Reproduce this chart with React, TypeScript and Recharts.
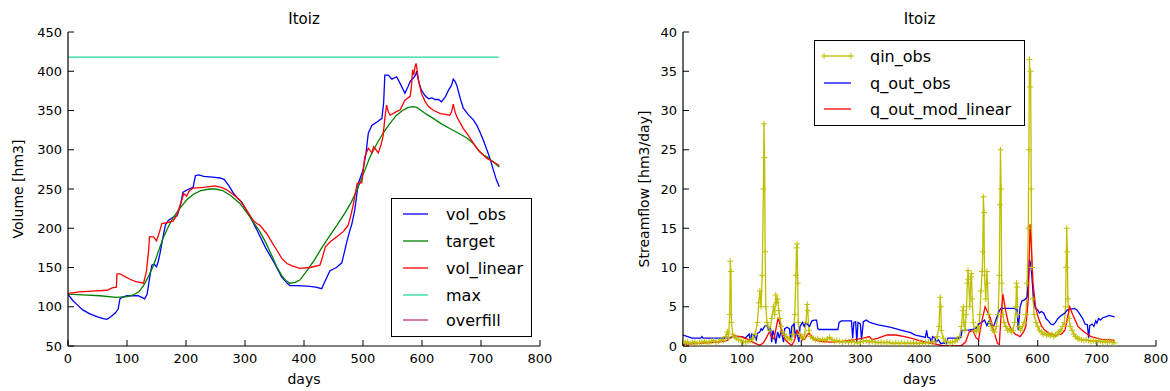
import React from 'react';
import { LineChart, Line, XAxis, YAxis } from 'recharts';

const FONT = '"DejaVu Sans", sans-serif';

const dayTicks = [0, 100, 200, 300, 400, 500, 600, 700, 800];
const volTicks = [50, 100, 150, 200, 250, 300, 350, 400, 450];
const flowTicks = [0, 5, 10, 15, 20, 25, 30, 35, 40];

const titleText = 'Itoiz';

// ---- Left chart: volumes [hm3] by day ----
const volObs: [number, number][] = [
  [0, 116], [8, 108], [15, 103], [25, 96], [37, 91], [50, 87], [60, 85], [66, 84], [72, 87], [80, 92],
  [85, 97], [88, 110], [92, 112], [100, 114], [110, 114], [119, 114], [125, 112], [130, 110], [134, 116],
  [138, 135], [142, 153], [146, 154], [150, 151], [153, 158], [156, 168], [160, 185], [165, 204], [170, 210],
  [178, 214], [185, 216], [190, 228], [195, 246], [205, 250], [212, 252], [216, 267], [222, 268], [230, 266],
  [245, 265], [258, 264], [265, 262], [272, 255], [280, 245], [288, 238], [294, 234], [305, 220], [320, 198],
  [335, 175], [348, 158], [356, 147], [362, 138], [370, 131], [376, 127], [390, 127], [410, 126], [420, 125],
  [430, 123], [436, 133], [444, 146], [455, 150], [464, 156], [468, 168], [472, 181], [478, 198], [481, 205],
  [486, 223], [492, 257], [500, 274], [505, 295], [509, 321], [515, 331], [525, 336], [532, 340], [535, 360],
  [537, 395], [543, 395], [549, 390], [557, 393], [564, 383], [571, 372], [576, 380], [580, 387], [585, 391],
  [589, 395], [591, 400], [595, 385], [599, 376], [605, 369], [611, 365], [617, 366], [622, 364], [628, 364],
  [633, 361], [640, 368], [645, 376], [650, 382], [653, 390], [656, 387], [659, 382], [665, 365], [670, 353],
  [678, 345], [687, 338], [693, 331], [698, 323], [704, 312], [710, 300], [716, 287], [721, 274], [726, 262],
  [731, 253],
];

const target: [number, number][] = [
  [0, 116], [25, 115], [54, 114], [82, 112], [100, 113], [111, 115], [120, 119], [128, 127], [136, 138],
  [145, 153], [153, 170], [162, 189], [170, 202], [178, 213], [190, 226], [201, 236], [212, 243], [225, 248],
  [240, 250], [250, 250], [262, 248], [275, 242], [291, 232], [305, 218], [315, 207], [325, 196], [335, 182],
  [345, 166], [354, 151], [362, 140], [370, 133], [376, 130], [385, 131], [393, 134], [405, 146], [418, 160],
  [430, 175], [444, 191], [456, 204], [469, 219], [480, 233], [490, 249], [500, 268], [512, 291], [523, 307],
  [534, 321], [545, 333], [557, 344], [567, 350], [577, 354], [585, 355], [591, 354], [597, 351], [608, 345],
  [619, 340], [633, 333], [647, 327], [662, 321], [676, 315], [687, 308], [693, 302], [698, 297], [705, 293],
  [710, 291], [720, 285], [731, 278],
];

const volLinear: [number, number][] = [
  [0, 117], [20, 119], [40, 120], [66, 121], [75, 124], [82, 125], [83, 142], [88, 142], [95, 139], [105, 135],
  [115, 132], [128, 130], [133, 145], [137, 175], [138, 189], [145, 189], [150, 184], [155, 195], [159, 206],
  [167, 207], [178, 209], [184, 216], [193, 236], [196, 244], [201, 241], [206, 248], [212, 251], [230, 252],
  [249, 254], [260, 252], [269, 249], [280, 243], [291, 236], [300, 226], [314, 210], [320, 206], [325, 204],
  [337, 193], [345, 183], [354, 172], [362, 162], [371, 155], [380, 152], [393, 149], [410, 150], [427, 153],
  [432, 165], [436, 176], [445, 183], [455, 189], [467, 196], [471, 200], [475, 204], [480, 218], [484, 232],
  [490, 257], [498, 258], [503, 291], [509, 302], [515, 296], [518, 304], [522, 300], [526, 296], [530, 305],
  [534, 317], [537, 340], [540, 357], [543, 348], [546, 344], [555, 348], [563, 351], [571, 363], [580, 368],
  [582, 380], [584, 402], [586, 395], [588, 405], [590, 410], [592, 400], [594, 389], [599, 372], [605, 362],
  [611, 355], [620, 350], [631, 346], [640, 345], [647, 344], [650, 348], [653, 358], [656, 348], [659, 342],
  [665, 334], [670, 327], [677, 320], [684, 312], [690, 305], [695, 300], [703, 294], [710, 289], [720, 285],
  [731, 280],
];

const maxVol: [number, number][] = [[0, 418], [730, 418]];
const overfill: [number, number][] = [];

// ---- Right chart: streamflow [hm3/day] by day ----
const qinObs: [number, number][] = [
  [0, 0.6], [4, 0.4], [8, 0.5], [12, 0.3], [16, 0.4], [20, 0.5], [24, 0.3], [28, 0.4], [32, 0.5], [36, 0.6],
  [40, 0.4], [44, 0.5], [48, 0.6], [52, 0.7], [56, 0.5], [60, 0.6], [64, 0.8], [68, 0.7], [72, 1.2], [75, 1.8],
  [77, 1.0], [79, 4.0], [80, 10.8], [81, 9.5], [82, 3.0], [84, 1.5], [87, 1.2], [90, 1.0], [94, 0.8], [98, 0.7],
  [102, 0.6], [106, 0.5], [110, 0.6], [114, 0.7], [118, 0.9], [122, 1.5], [126, 3.0], [128, 5.5], [130, 7.0],
  [132, 5.0], [134, 9.0], [136, 20], [137, 28.3], [138, 24], [139, 12], [140, 5], [142, 3], [144, 2.5],
  [147, 2.0], [150, 3.5], [153, 5.0], [155, 4.0], [157, 6.5], [158, 5.5], [160, 6.0], [162, 4.5], [164, 3.5],
  [166, 2.5], [168, 1.8], [171, 1.5], [174, 1.2], [177, 1.0], [180, 1.0], [183, 0.8], [186, 1.5], [189, 4.0],
  [191, 9.0], [192, 12.5], [193, 13.0], [194, 8.0], [195, 3.0], [197, 1.5], [200, 1.2], [203, 1.0], [206, 1.5],
  [208, 3.0], [210, 5.3], [211, 4.5], [213, 2.0], [216, 1.2], [220, 1.0], [224, 0.8], [228, 0.9], [232, 0.7],
  [236, 0.8], [240, 0.7], [244, 0.9], [248, 1.1], [252, 0.8], [256, 0.6], [260, 0.7], [265, 0.6], [270, 0.5],
  [275, 0.6], [280, 0.5], [285, 0.6], [290, 0.5], [295, 0.4], [300, 0.5], [305, 0.6], [310, 0.7], [315, 0.5],
  [320, 0.6], [325, 0.5], [330, 0.4], [335, 0.5], [340, 0.4], [345, 0.5], [350, 0.4], [355, 0.3], [360, 0.4],
  [365, 0.3], [370, 0.4], [375, 0.3], [380, 0.4], [385, 0.3], [390, 0.4], [395, 0.3], [400, 0.4], [405, 0.3],
  [410, 0.4], [415, 0.5], [420, 0.4], [425, 0.6], [430, 1.2], [433, 2.5], [435, 6.2], [436, 5.0], [437, 2.0],
  [440, 1.0], [444, 0.6], [448, 0.5], [452, 0.4], [456, 0.5], [460, 0.6], [464, 0.8], [468, 1.2], [471, 2.5],
  [473, 4.5], [474, 5.0], [475, 3.0], [477, 2.0], [479, 4.0], [481, 8.0], [482, 9.6], [483, 8.5], [485, 5.0],
  [487, 8.8], [488, 9.2], [489, 6.0], [491, 3.0], [493, 2.0], [496, 1.8], [498, 2.5], [500, 2.0], [502, 4.0],
  [504, 7.0], [506, 9.5], [507, 12.0], [508, 19.0], [509, 17.0], [510, 9.0], [512, 6.0], [514, 9.5], [515, 8.0],
  [517, 4.0], [519, 3.0], [521, 2.5], [524, 2.0], [527, 1.8], [530, 2.5], [533, 4.0], [535, 9.0], [536, 18.0],
  [537, 25.0], [538, 20.0], [539, 8.0], [541, 4.0], [543, 3.0], [546, 2.5], [549, 2.0], [552, 2.2], [555, 1.8],
  [558, 2.0], [561, 3.0], [563, 5.0], [564, 8.0], [565, 7.5], [566, 4.0], [568, 2.5], [571, 2.0], [574, 2.5],
  [577, 3.0], [580, 4.0], [582, 8.0], [584, 15], [585, 25], [586, 36.5], [587, 33], [588, 35], [589, 20],
  [590, 10], [592, 6], [594, 4], [597, 3], [600, 2.5], [603, 2.0], [606, 1.8], [609, 1.5], [612, 1.6],
  [615, 1.4], [618, 1.5], [621, 1.3], [624, 1.5], [627, 1.2], [630, 1.4], [633, 1.5], [636, 1.8], [639, 2.0],
  [642, 2.5], [645, 3.0], [647, 5.0], [648, 10.0], [649, 15.0], [650, 12.0], [651, 6.0], [653, 3.5], [655, 2.5],
  [658, 2.0], [661, 1.5], [664, 1.2], [667, 1.0], [670, 0.9], [674, 0.8], [678, 0.7], [682, 0.8], [686, 0.7],
  [690, 0.6], [694, 0.7], [698, 0.6], [702, 0.7], [706, 0.6], [710, 0.5], [714, 0.6], [718, 0.5], [722, 0.6],
  [726, 0.5], [730, 0.4],
];

const qOutObs: [number, number][] = [
  [0, 1.4], [8, 1.2], [15, 1.0], [30, 1.0], [32, 1.2], [34, 1.0], [60, 1.0], [80, 1.0], [84, 1.2], [100, 1.2],
  [105, 1.0], [108, 1.2], [112, 1.5], [114, 0.5], [116, 1.5], [120, 1.4], [124, 0.8], [126, 1.6], [130, 1.8],
  [132, 2.2], [134, 2.0], [138, 2.5], [142, 2.6], [145, 2.0], [148, 2.2], [150, 0.5], [152, 2.0], [155, 1.2],
  [157, 0.3], [160, 1.8], [163, 1.0], [166, 2.0], [170, 0.5], [172, 2.2], [176, 2.4], [180, 2.2], [182, 0.8],
  [184, 2.5], [188, 2.8], [190, 1.0], [192, 2.0], [196, 0.5], [198, 2.5], [202, 3.0], [205, 2.5], [207, 2.9],
  [210, 2.8], [214, 2.5], [218, 3.2], [222, 3.3], [226, 3.3], [228, 2.2], [230, 2.1], [262, 2.1], [264, 3.0],
  [268, 3.2], [285, 3.2], [287, 1.0], [289, 3.0], [292, 3.1], [294, 0.5], [296, 3.0], [300, 2.8], [302, 0.8],
  [305, 3.1], [310, 3.3], [316, 3.0], [320, 2.9], [330, 2.7], [350, 2.4], [370, 2.0], [385, 1.7], [393, 1.4],
  [405, 1.2], [410, 1.1], [412, 2.0], [414, 1.1], [418, 1.0], [420, 0.3], [422, 1.2], [426, 1.0], [428, 0.5],
  [432, 0.8], [436, 0.3], [440, 0.4], [445, 0.3], [448, 1.0], [450, 1.0], [460, 1.0], [465, 1.0], [470, 1.1],
  [472, 2.0], [480, 2.0], [490, 2.1], [496, 2.3], [500, 2.8], [505, 3.0], [510, 3.3], [514, 2.6], [518, 3.2],
  [522, 2.5], [526, 2.6], [530, 3.5], [535, 4.5], [538, 4.8], [560, 4.8], [565, 4.6], [567, 2.0], [570, 4.9],
  [573, 5.7], [578, 5.9], [582, 6.2], [584, 8.0], [586, 11.0], [588, 10.5], [590, 9.0], [593, 6.0], [596, 4.8],
  [600, 4.6], [603, 4.2], [606, 4.4], [610, 4.2], [614, 3.5], [618, 3.2], [622, 2.8], [626, 2.7], [630, 3.0],
  [634, 3.5], [638, 3.8], [642, 4.0], [646, 4.2], [650, 4.6], [656, 4.7], [662, 4.8], [666, 4.6], [670, 4.2],
  [676, 3.5], [680, 2.8], [684, 2.7], [686, 1.0], [688, 2.6], [692, 2.8], [695, 2.5], [698, 3.2], [700, 2.9],
  [703, 3.5], [706, 3.3], [710, 3.6], [715, 3.7], [720, 3.9], [725, 3.8], [730, 3.7],
];

const qOutModLinear: [number, number][] = [
  [0, 0.2], [20, 0.3], [40, 0.4], [60, 0.5], [75, 0.7], [82, 1.2], [88, 1.3], [98, 1.2], [108, 0.9], [118, 0.5],
  [126, 0.2], [130, 0.1], [136, 0.4], [142, 1.2], [146, 1.8], [150, 1.2], [154, 0.9], [158, 2.5], [161, 3.6],
  [164, 2.8], [168, 1.5], [174, 0.7], [180, 0.3], [184, 0.1], [188, 0.6], [193, 2.0], [197, 1.5], [202, 0.8],
  [206, 0.9], [212, 1.6], [216, 1.4], [222, 0.8], [232, 0.6], [250, 0.5], [270, 0.6], [290, 0.8], [305, 1.0],
  [315, 1.2], [320, 0.8], [330, 1.0], [345, 1.4], [360, 1.4], [375, 1.2], [390, 0.9], [400, 0.7], [415, 0.4],
  [430, 0.2], [440, 0.0], [470, 0.0], [478, 0.5], [484, 1.8], [490, 2.0], [496, 1.0], [500, 0.8], [505, 3.0],
  [511, 5.0], [516, 4.2], [520, 3.5], [526, 1.8], [532, 0.3], [535, 0.2], [538, 4.0], [541, 6.6], [545, 4.8],
  [550, 3.0], [556, 2.0], [562, 1.5], [570, 1.2], [576, 1.8], [580, 2.5], [584, 6.0], [587, 15.5], [589, 13],
  [592, 8], [596, 5.2], [600, 3.8], [606, 2.6], [612, 2.0], [620, 1.6], [630, 1.4], [640, 1.5], [646, 2.0],
  [650, 3.5], [654, 5.0], [658, 4.2], [662, 3.5], [668, 2.5], [675, 2.0], [682, 1.6], [690, 1.2], [700, 1.0],
  [710, 0.8], [720, 0.8], [730, 0.7],
];

const toRows = (pairs: [number, number][]) => pairs.map(([day, v]) => ({ day, v }));

const C = {
  blue: '#0000ff',
  green: '#008000',
  red: '#ff0000',
  max: '#22d8a0',
  overfill: '#c0307a',
  yellow: '#bfbf00',
};

const tickStyle = { fontSize: 13, fill: '#000', fontFamily: FONT };
const axisLine = { stroke: '#000', strokeWidth: 1.2 };
const tickLine = { stroke: '#000', strokeWidth: 1 };

const PlusDot = (props: any) => {
  const { cx, cy, index } = props;
  if (cx == null || cy == null) return <g key={`n${index}`} />;
  const s = 3;
  return (
    <path
      key={`p${index}`}
      d={`M${cx - s},${cy}H${cx + s}M${cx},${cy - s}V${cy + s}`}
      stroke={C.yellow}
      strokeWidth={1}
      fill="none"
    />
  );
};

const Axes = ({ yTicks, yDomain }: { yTicks: number[]; yDomain: [number, number] }) => null;

function frameAxes(yTicks: number[], yDomain: [number, number]) {
  return [
    <XAxis
      key="xb"
      xAxisId="b"
      type="number"
      dataKey="day"
      domain={[0, 800]}
      ticks={dayTicks}
      allowDataOverflow
      height={40}
      tickSize={-6}
      tickMargin={14}
      tick={tickStyle}
      axisLine={axisLine}
      tickLine={tickLine}
      interval={0}
    />,
    <XAxis
      key="xt"
      xAxisId="t"
      orientation="top"
      type="number"
      dataKey="day"
      domain={[0, 800]}
      ticks={dayTicks}
      allowDataOverflow
      height={0}
      tickSize={-6}
      tick={false}
      axisLine={axisLine}
      tickLine={tickLine}
      interval={0}
    />,
    <YAxis
      key="yl"
      yAxisId="l"
      type="number"
      domain={yDomain}
      ticks={yTicks}
      allowDataOverflow
      width={60}
      tickSize={-6}
      tickMargin={12}
      tick={tickStyle}
      axisLine={axisLine}
      tickLine={tickLine}
      interval={0}
    />,
    <YAxis
      key="yr"
      yAxisId="r"
      orientation="right"
      type="number"
      domain={yDomain}
      ticks={yTicks}
      allowDataOverflow
      width={0}
      tickSize={-6}
      tick={false}
      axisLine={axisLine}
      tickLine={tickLine}
      interval={0}
    />,
  ];
}

const LegendBox = ({
  left, top, width, height, items, gap, lineX0, lineX1, textX,
}: {
  left: number; top: number; width: number; height: number;
  items: { label: string; color: string; plus?: boolean; y: number }[];
  gap?: number; lineX0: number; lineX1: number; textX: number;
}) => (
  <div
    style={{
      position: 'absolute', left, top, width, height, border: '1.3px solid #000',
      background: '#fff', boxSizing: 'border-box',
    }}
  >
    <svg width={width} height={height} style={{ position: 'absolute', left: 0, top: 0 }}>
      {items.map((it) => (
        <g key={it.label}>
          <line x1={lineX0} x2={lineX1} y1={it.y} y2={it.y} stroke={it.color} strokeWidth={1.3} />
          {it.plus && (
            <>
              <path d={`M${lineX0 - 3},${it.y}H${lineX0 + 3}M${lineX0},${it.y - 3}V${it.y + 3}`} stroke={it.color} />
              <path d={`M${lineX1 - 3},${it.y}H${lineX1 + 3}M${lineX1},${it.y - 3}V${it.y + 3}`} stroke={it.color} />
            </>
          )}
          <text x={textX} y={it.y + 5.5} fontSize={16} fontFamily={FONT} fill="#000">
            {it.label}
          </text>
        </g>
      ))}
    </svg>
  </div>
);

const Txt = ({ x, y, children, size = 14, rotate = false }: any) => (
  <div
    style={{
      position: 'absolute', left: x, top: y, fontFamily: FONT, fontSize: size, color: '#000',
      whiteSpace: 'nowrap', lineHeight: 1,
      transform: rotate ? 'translate(-50%, -50%) rotate(-90deg)' : 'translate(-50%, -50%)',
    }}
  >
    {children}
  </div>
);

export default function App() {
  return (
    <div
      style={{
        position: 'absolute', left: 0, top: 0, width: 1170, height: 391, background: '#fff',
        fontFamily: FONT, overflow: 'hidden',
      }}
    >
      <div style={{ position: 'absolute', left: 0, top: 0 }}>
        <LineChart width={585} height={391} margin={{ top: 32, right: 45, bottom: 5, left: 8 }}>
          {frameAxes(volTicks, [50, 450])}
          <Line data={toRows(volObs)} dataKey="v" xAxisId="b" yAxisId="l" type="linear" dot={false}
            stroke={C.blue} strokeWidth={1.3} isAnimationActive={false} name="vol_obs" />
          <Line data={toRows(target)} dataKey="v" xAxisId="b" yAxisId="l" type="linear" dot={false}
            stroke={C.green} strokeWidth={1.3} isAnimationActive={false} name="target" />
          <Line data={toRows(volLinear)} dataKey="v" xAxisId="b" yAxisId="l" type="linear" dot={false}
            stroke={C.red} strokeWidth={1.3} isAnimationActive={false} name="vol_linear" />
          <Line data={toRows(maxVol)} dataKey="v" xAxisId="b" yAxisId="l" type="linear" dot={false}
            stroke={C.max} strokeWidth={1.3} isAnimationActive={false} name="max" />
          <Line data={toRows(overfill)} dataKey="v" xAxisId="b" yAxisId="l" type="linear" dot={false}
            stroke={C.overfill} strokeWidth={1.3} isAnimationActive={false} name="overfill" />
        </LineChart>
      </div>

      <div style={{ position: 'absolute', left: 585, top: 0 }}>
        <LineChart width={585} height={391} margin={{ top: 32, right: 14, bottom: 5, left: 38 }}>
          {frameAxes(flowTicks, [0, 40])}
          <Line data={toRows(qinObs)} dataKey="v" xAxisId="b" yAxisId="l" type="linear" dot={PlusDot}
            stroke={C.yellow} strokeWidth={1.3} isAnimationActive={false} name="qin_obs" />
          <Line data={toRows(qOutObs)} dataKey="v" xAxisId="b" yAxisId="l" type="linear" dot={false}
            stroke={C.blue} strokeWidth={1.3} isAnimationActive={false} name="q_out_obs" />
          <Line data={toRows(qOutModLinear)} dataKey="v" xAxisId="b" yAxisId="l" type="linear" dot={false}
            stroke={C.red} strokeWidth={1.3} isAnimationActive={false} name="q_out_mod_linear" />
        </LineChart>
      </div>

      <Txt x={304} y={19} size={15}>{titleText}</Txt>
      <Txt x={919.5} y={19} size={15}>{titleText}</Txt>
      <Txt x={304} y={379}>days</Txt>
      <Txt x={919.5} y={379}>days</Txt>
      <Txt x={18} y={189} rotate>Volume [hm3]</Txt>
      <Txt x={644} y={189} rotate>Streamflow [hm3/day]</Txt>

      <LegendBox
        left={391} top={198} width={141} height={139}
        lineX0={11} lineX1={36} textX={54}
        items={[
          { label: 'vol_obs', color: C.blue, y: 15 },
          { label: 'target', color: C.green, y: 42 },
          { label: 'vol_linear', color: C.red, y: 69 },
          { label: 'max', color: C.max, y: 96 },
          { label: 'overfill', color: C.overfill, y: 121 },
        ]}
      />
      <LegendBox
        left={814} top={40} width={211} height={86}
        lineX0={9} lineX1={36} textX={55}
        items={[
          { label: 'qin_obs', color: C.yellow, plus: true, y: 15 },
          { label: 'q_out_obs', color: C.blue, y: 42 },
          { label: 'q_out_mod_linear', color: C.red, y: 68 },
        ]}
      />
    </div>
  );
}
